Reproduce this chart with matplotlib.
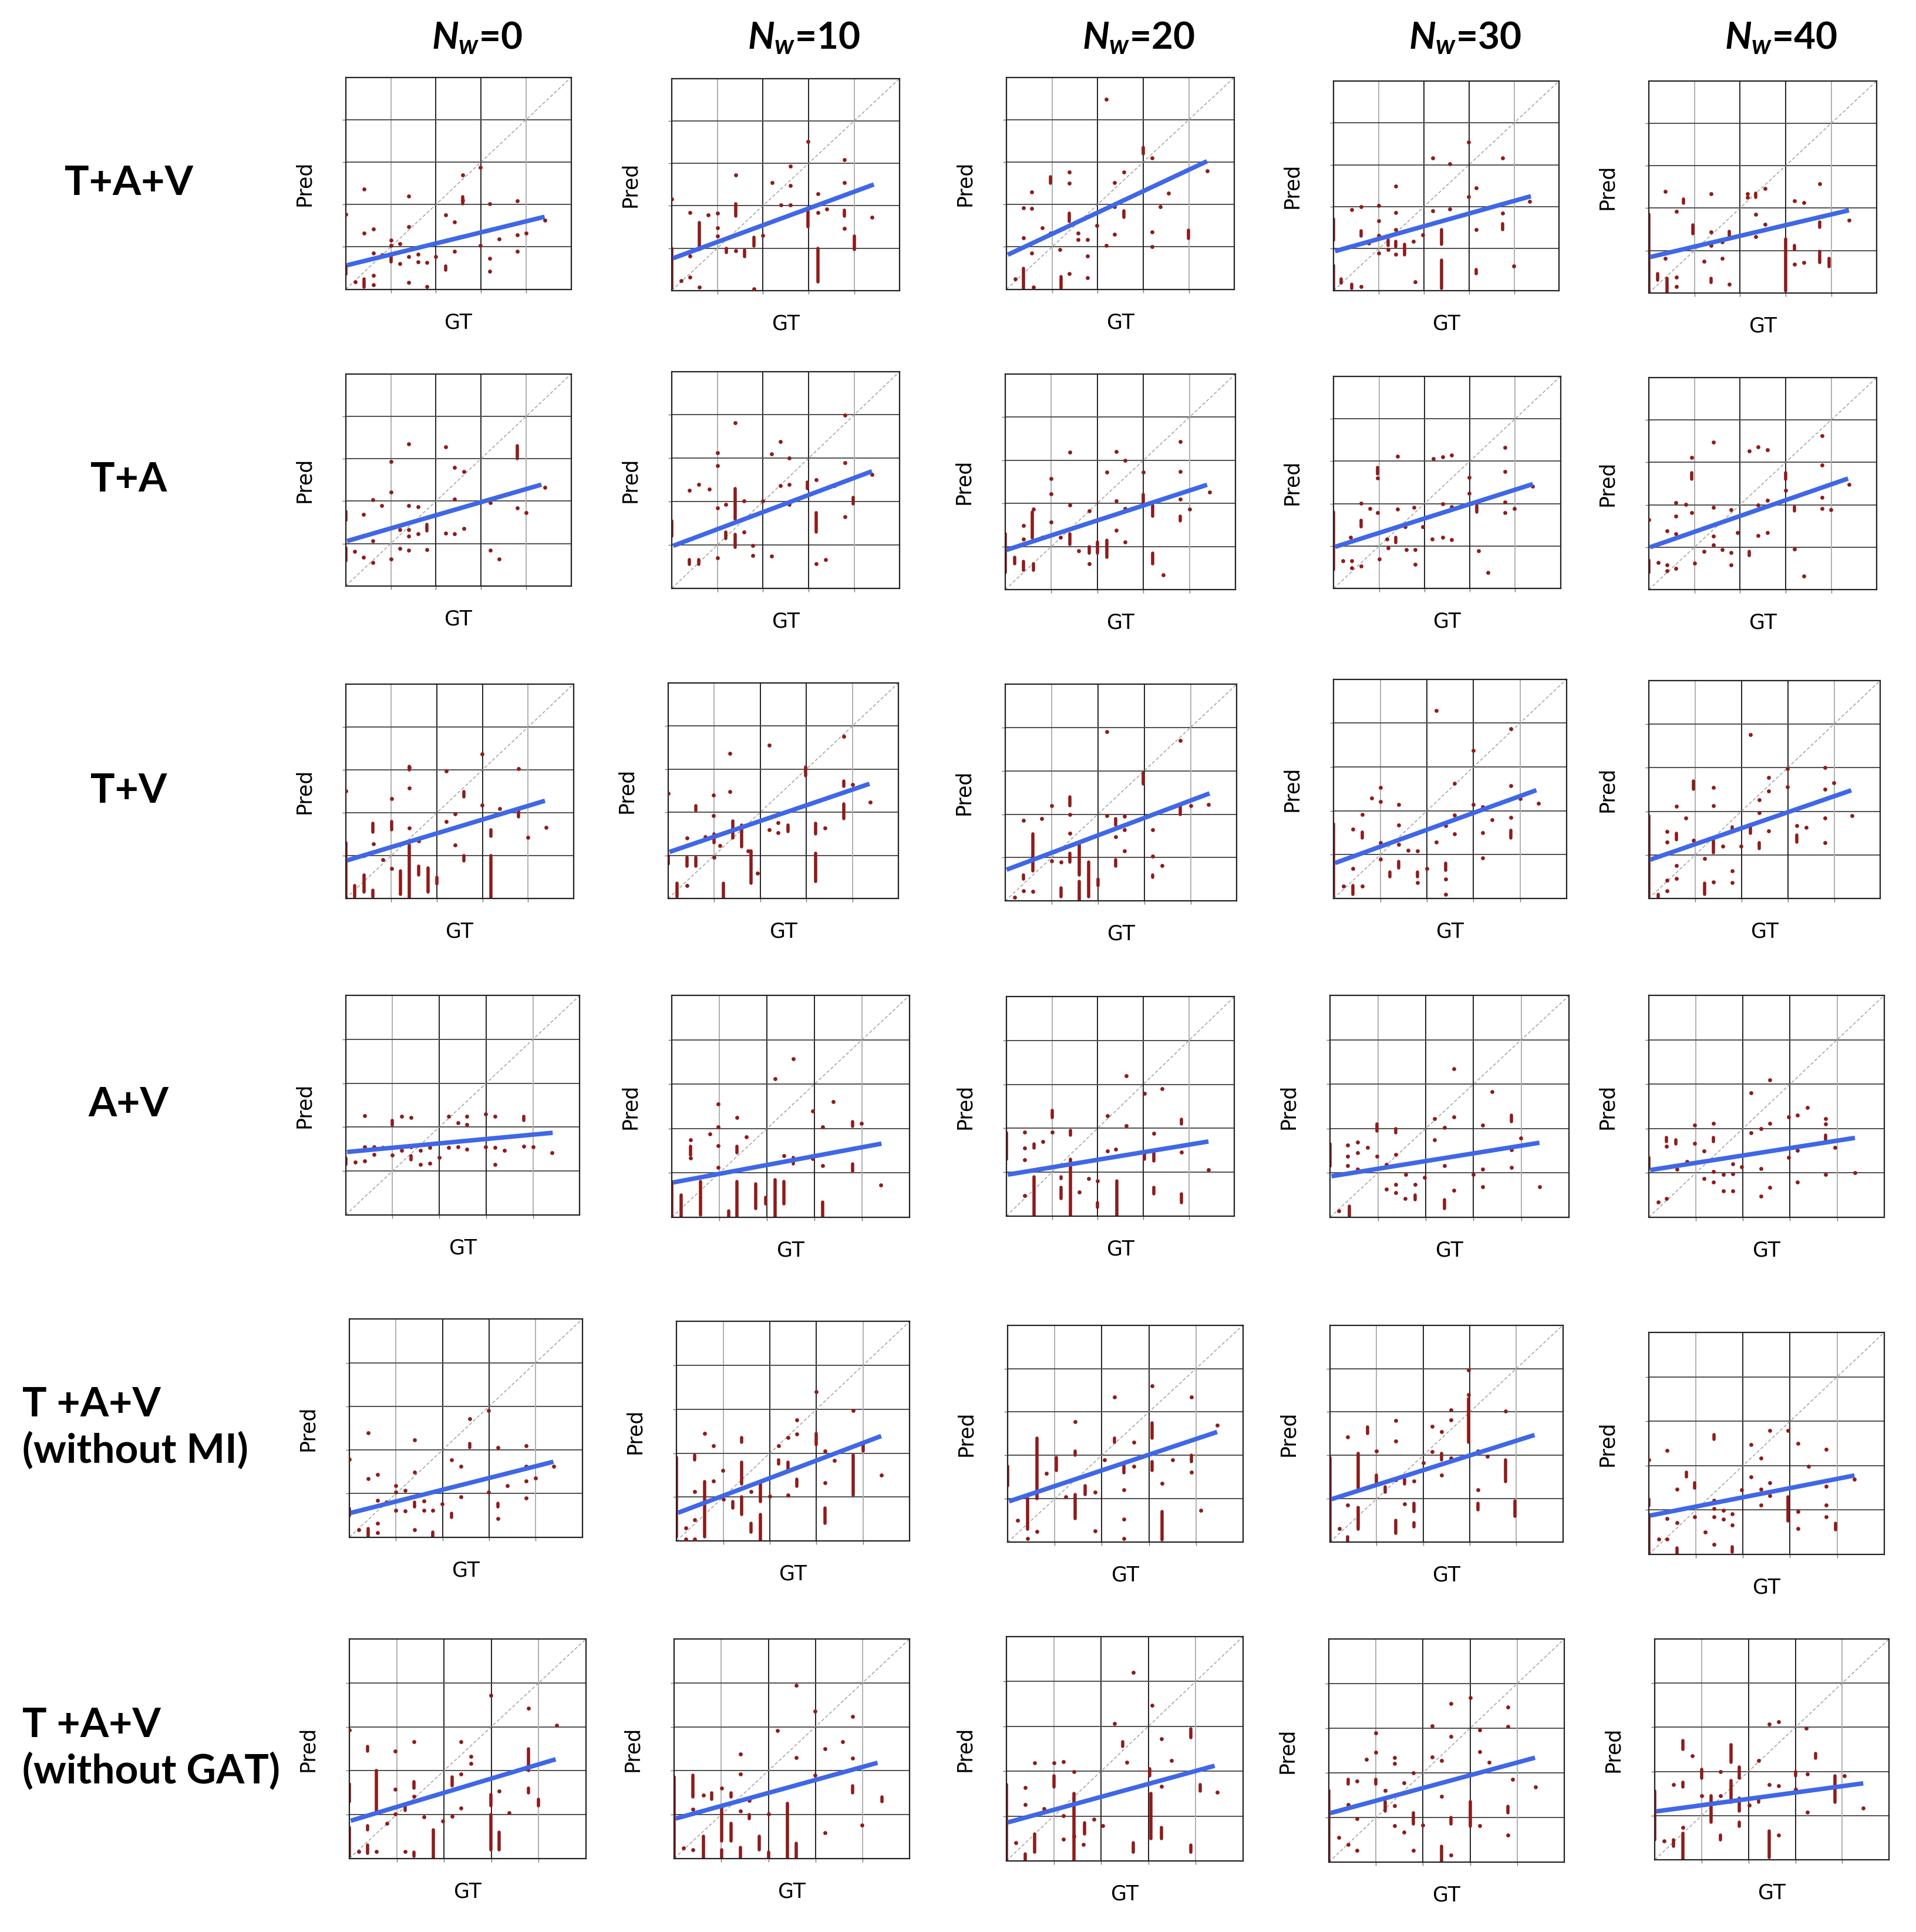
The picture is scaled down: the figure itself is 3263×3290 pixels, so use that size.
import matplotlib
matplotlib.use("Agg")
import matplotlib.pyplot as plt

plt.rcParams['mathtext.fontset'] = 'custom'
plt.rcParams['mathtext.it'] = 'Lato:italic:bold'
plt.rcParams['mathtext.rm'] = 'Lato:bold'

col_titles = ['0', '10', '20', '30', '40']
row_labels = ['T+A+V', 'T+A', 'T+V', 'A+V', 'T +A+V\n(without MI)', 'T +A+V\n(without GAT)']

# fitted line per panel: (pred at GT=0, last GT, pred at last GT)
fits_r1 = [(0.56, 4.41, 1.71), (0.75, 4.43, 2.50), (0.80, 4.40, 3.02), (0.93, 4.37, 2.25), (0.84, 4.39, 1.95)]
fits_r2 = [(1.05, 4.34, 2.39), (0.97, 4.39, 2.70), (0.91, 4.38, 2.43), (0.97, 4.39, 2.46), (0.99, 4.37, 2.62)]
fits_r3 = [(0.88, 4.37, 2.28), (1.07, 4.37, 2.66), (0.71, 4.41, 2.48), (0.80, 4.35, 2.47), (0.88, 4.37, 2.48)]
fits_r4 = [(1.43, 4.42, 1.87), (0.78, 4.41, 1.66), (0.94, 4.43, 1.70), (0.92, 4.38, 1.68), (1.06, 4.38, 1.79)]
fits_r5 = [(0.55, 4.38, 1.73), (0.63, 4.39, 2.39), (0.93, 4.45, 2.54), (0.98, 4.39, 2.47), (0.87, 4.37, 1.78)]
fits_r6 = [(0.85, 4.36, 2.26), (0.90, 4.32, 2.18), (0.85, 4.40, 2.12), (1.09, 4.38, 2.34), (1.09, 4.45, 1.73)]

# single predictions (GT, Pred)
pts_r1 = [
    [(0.41, 2.36), (1.40, 2.19), (2.60, 2.69), (2.99, 2.88), (2.60, 2.10), (3.19, 2.02), (3.80, 2.08), (2.22, 1.76),
     (2.41, 1.59), (0.0, 1.77), (0.41, 1.32), (0.61, 1.42), (1.40, 1.47), (1.0, 1.16), (1.2, 1.07), (1.0, 1.04),
     (0.81, 0.81), (0.61, 0.85), (1.2, 0.61), (1.40, 0.77), (1.61, 0.83), (1.61, 0.65), (1.80, 0.63), (2.0, 0.77),
     (2.41, 0.90), (2.99, 1.04), (3.19, 0.73), (3.19, 0.43), (3.40, 1.18), (3.80, 1.28), (3.80, 0.89), (4.0, 1.33),
     (4.41, 1.63), (0.61, 0.33), (0.21, 0.18), (0.61, 0.10), (1.40, 0.16), (1.80, 0.06)],
    [(2.99, 3.52), (3.79, 3.09), (1.40, 2.73), (2.60, 2.93), (2.20, 2.55), (2.60, 2.48), (3.79, 2.54), (3.20, 2.28),
     (2.40, 2.02), (2.60, 2.02), (3.20, 1.84), (3.40, 1.92), (4.39, 1.73), (3.79, 1.46), (1.0, 1.82), (0.8, 1.78),
     (0.4, 1.84), (1.0, 1.29), (1.4, 0.94), (2.0, 1.30), (0.4, 0.82), (0.2, 0.23), (0.4, 0.31), (0.6, 0.08),
     (1.8, 0.04), (0.0, 2.15), (1.0, 1.48)],
    [(2.19, 4.48), (3.19, 3.09), (4.40, 2.79), (1.38, 2.77), (1.38, 2.50), (2.58, 2.77), (2.37, 2.52), (0.56, 2.30),
     (3.56, 2.27), (0.56, 1.91), (0.38, 1.92), (2.37, 1.95), (3.37, 1.95), (1.98, 1.50), (0.79, 1.45), (0.97, 1.33),
     (1.57, 1.33), (1.57, 1.17), (1.78, 1.17), (2.37, 1.30), (3.19, 1.35), (2.19, 1.04), (3.19, 1.00), (0.38, 1.21),
     (0.56, 0.86), (1.17, 0.94), (1.78, 0.78), (1.78, 0.27), (1.38, 0.37), (0.2, 0.25), (0.59, 0.05)],
    [(2.99, 3.54), (2.20, 3.16), (2.57, 3.02), (3.75, 3.16), (1.37, 2.49), (3.16, 2.45), (2.99, 2.24), (4.34, 2.12),
     (0.61, 2.00), (1.0, 2.03), (0.4, 1.93), (2.20, 1.90), (2.57, 1.95), (1.37, 1.86), (3.75, 1.84), (1.0, 1.66),
     (3.16, 1.46), (1.37, 1.46), (1.0, 1.32), (1.97, 1.33), (0.77, 1.13), (1.77, 1.17), (1.2, 0.97), (1.37, 0.87),
     (1.0, 0.89), (3.99, 0.58), (1.8, 0.20), (0.61, 0.10)],
    [(3.75, 2.57), (0.36, 2.40), (1.37, 2.34), (2.16, 2.34), (2.55, 2.47), (3.2, 2.17), (3.4, 2.13), (2.16, 2.26),
     (0.61, 1.93), (2.35, 1.85), (2.55, 1.62), (4.39, 1.72), (1.37, 1.44), (2.35, 1.33), (1.61, 1.21), (1.37, 1.12),
     (3.2, 0.68), (0.36, 0.82), (1.21, 0.74), (1.61, 0.81), (0.61, 0.37), (0.61, 0.15), (1.76, 0.20), (3.4, 0.72)],
]
pts_r2 = [
    [(1.4, 3.35), (2.22, 3.28), (1.0, 2.94), (2.41, 2.80), (2.62, 2.70), (1.0, 2.22), (0.6, 2.04), (0.8, 1.90),
     (1.4, 1.90), (1.6, 1.87), (2.41, 2.05), (3.0, 1.98), (3.2, 1.96), (3.8, 1.84), (4.0, 1.73), (4.42, 2.33),
     (0.4, 1.69), (1.2, 1.33), (1.4, 1.33), (1.6, 1.23), (1.4, 1.18), (2.22, 1.24), (2.41, 1.23), (2.62, 1.35),
     (0.4, 1.19), (0.6, 1.07), (1.2, 0.88), (1.4, 0.84), (1.8, 0.85), (1.0, 0.64), (0.2, 0.82), (0.4, 0.67),
     (0.6, 0.55), (3.2, 0.84), (3.4, 0.64)],
    [(3.8, 3.99), (1.39, 3.82), (2.38, 3.39), (2.19, 3.10), (2.58, 3.00), (1.0, 3.12), (1.0, 2.83), (3.8, 2.89),
     (0.59, 2.40), (0.82, 2.29), (1.58, 2.02), (2.38, 2.37), (2.58, 2.39), (3.17, 2.51), (3.57, 2.37), (3.8, 1.65),
     (4.39, 2.62), (0.38, 2.26), (1.0, 1.85), (1.19, 1.93), (1.99, 2.01), (2.58, 1.93), (1.58, 1.30), (1.78, 0.99),
     (1.78, 0.76), (2.19, 0.74), (1.0, 0.70), (0.2, 1.05), (3.17, 0.57), (3.37, 0.66)],
    [(1.4, 3.19), (2.41, 3.20), (2.6, 3.00), (3.8, 3.43), (3.8, 2.74), (2.2, 2.72), (1.0, 2.57), (1.4, 1.96),
     (1.0, 2.22), (2.41, 2.06), (3.0, 2.72), (3.8, 2.10), (4.0, 1.87), (4.43, 2.26), (2.6, 1.88), (1.82, 1.83),
     (0.61, 1.87), (1.0, 1.56), (0.4, 1.48), (0.4, 1.17), (0.8, 1.21), (1.2, 1.21), (1.6, 0.90), (2.41, 1.37),
     (2.6, 1.11), (3.43, 0.34), (1.82, 0.60)],
    [(1.4, 3.12), (2.19, 3.06), (2.4, 3.10), (2.6, 3.14), (3.77, 3.32), (0.96, 2.60), (2.98, 2.62), (3.77, 2.76),
     (2.98, 2.25), (0.6, 2.01), (0.8, 1.89), (0.96, 1.79), (1.4, 1.87), (1.77, 1.91), (2.4, 1.99), (2.6, 1.93),
     (3.77, 2.03), (3.77, 1.79), (3.98, 1.89), (4.39, 2.41), (1.57, 1.46), (1.96, 1.46), (0.37, 1.20), (1.17, 1.16),
     (2.17, 1.16), (2.4, 1.20), (2.6, 1.15), (1.2, 0.95), (1.6, 0.92), (1.8, 0.91), (3.19, 0.89), (1.0, 0.69),
     (0.2, 0.65), (0.4, 0.65), (0.4, 0.48), (0.6, 0.52), (1.8, 0.57), (3.4, 0.38)],
    [(1.42, 3.47), (2.2, 3.27), (2.4, 3.37), (2.6, 3.29), (3.8, 3.63), (0.94, 3.11), (3.8, 2.94), (3.0, 2.34),
     (0.6, 2.05), (0.81, 2.01), (2.4, 2.00), (2.6, 2.10), (3.8, 2.17), (3.8, 1.91), (3.99, 1.89), (1.42, 1.94),
     (1.8, 1.89), (0.94, 1.82), (0.6, 1.73), (0.4, 1.38), (0.6, 1.32), (0.0, 1.65), (1.42, 1.26), (1.42, 1.06),
     (1.94, 1.34), (2.4, 1.28), (2.6, 1.34), (1.21, 0.90), (1.61, 0.94), (1.8, 0.88), (3.2, 0.96), (1.0, 0.62),
     (0.21, 0.64), (0.4, 0.58), (0.4, 0.44), (0.6, 0.50), (1.8, 0.59), (3.4, 0.32), (4.39, 2.48)],
]
pts_r3 = [
    [(2.99, 3.37), (1.4, 3.05), (2.2, 2.97), (3.79, 3.03), (1.4, 2.58), (0.0, 2.51), (1.01, 2.33), (2.99, 2.18),
     (3.38, 2.10), (2.4, 1.98), (2.2, 1.80), (4.39, 1.66), (4.0, 1.42), (1.4, 1.64), (1.6, 1.34), (0.61, 1.27),
     (2.4, 1.25), (0.4, 1.00), (0.81, 0.90), (1.01, 0.70)],
    [(2.19, 3.56), (3.81, 3.76), (1.34, 3.36), (1.34, 2.48), (0.98, 2.40), (0.98, 1.92), (0.0, 2.44), (4.0, 2.64),
     (4.38, 2.24), (2.19, 1.60), (2.39, 1.52), (2.39, 1.76), (3.4, 1.63), (0.8, 1.43), (0.41, 1.40), (1.13, 1.23),
     (1.73, 1.10), (1.94, 0.59), (0.41, 0.30), (1.0, 0.95)],
    [(2.19, 3.90), (3.78, 3.70), (1.0, 2.20), (1.4, 2.00), (0.79, 1.90), (0.4, 1.86), (2.19, 1.97), (2.58, 1.96),
     (4.0, 2.20), (4.39, 2.22), (1.4, 1.56), (2.58, 1.64), (2.38, 1.48), (3.18, 1.64), (2.58, 1.15), (1.0, 0.92),
     (1.2, 0.90), (3.18, 1.04), (3.38, 0.82), (0.6, 0.22), (0.2, 0.08), (0.4, 0.24)],
    [(2.2, 4.28), (3.8, 3.87), (3.0, 3.37), (1.0, 2.53), (2.59, 2.63), (0.81, 2.29), (1.0, 2.21), (1.4, 2.15),
     (3.8, 2.57), (4.0, 2.28), (4.39, 2.17), (3.0, 2.15), (3.2, 2.09), (0.61, 1.91), (2.59, 1.90), (3.4, 1.80),
     (3.8, 1.85), (1.4, 1.68), (2.4, 1.66), (0.41, 1.58), (2.59, 1.48), (3.2, 1.50), (2.2, 1.29), (1.0, 1.28),
     (1.4, 1.24), (1.6, 1.10), (1.8, 1.09), (3.2, 0.92), (1.0, 0.90), (0.41, 0.68), (2.0, 0.68), (2.4, 0.45),
     (2.4, 0.10), (1.8, 0.37), (0.21, 0.29), (0.61, 0.29)],
    [(2.19, 3.76), (2.99, 2.98), (3.8, 3.00), (2.59, 2.78), (1.4, 2.54), (2.99, 2.56), (3.99, 2.66), (2.59, 2.46),
     (3.8, 2.50), (0.6, 2.12), (1.4, 2.13), (2.39, 2.26), (2.39, 1.97), (0.8, 1.84), (4.38, 1.90), (3.8, 1.84),
     (2.59, 1.55), (3.2, 1.67), (3.4, 1.63), (0.4, 1.54), (0.4, 1.30), (0.96, 1.34), (1.6, 1.20), (1.99, 1.20),
     (3.8, 1.28), (1.2, 0.92), (0.6, 0.76), (1.8, 0.64), (0.4, 0.42), (0.6, 0.46), (1.4, 0.38), (1.8, 0.36),
     (0.4, 0.18)],
]
pts_r4 = [
    [(0.4, 2.26), (1.19, 2.24), (1.4, 2.22), (2.2, 2.24), (2.4, 2.10), (2.59, 2.24), (2.59, 2.06), (2.99, 2.30),
     (3.19, 2.24), (0.4, 1.55), (0.6, 1.55), (0.79, 1.53), (1.4, 1.55), (1.8, 1.53), (2.2, 1.53), (2.4, 1.55),
     (2.99, 1.55), (3.19, 1.53), (3.8, 1.56), (4.0, 1.55), (4.4, 1.41), (0.2, 1.20), (0.4, 1.23), (0.6, 1.37),
     (1.0, 1.36), (1.19, 1.47), (1.6, 1.47), (1.6, 1.15), (1.8, 1.17), (2.0, 1.31), (2.59, 1.49), (3.39, 1.47),
     (3.19, 1.15)],
    [(2.56, 3.57), (2.17, 3.12), (3.39, 2.60), (0.97, 2.55), (1.37, 2.25), (2.96, 2.39), (3.17, 2.04), (3.99, 2.12),
     (0.8, 1.88), (0.97, 2.04), (0.4, 1.74), (0.4, 1.33), (0.97, 1.62), (1.57, 1.81), (2.36, 1.39), (3.17, 1.17),
     (2.96, 1.32), (0.97, 1.13), (4.39, 0.73)],
    [(2.63, 3.20), (3.41, 2.90), (3.03, 2.80), (2.21, 2.28), (2.63, 2.06), (0.4, 1.91), (1.0, 1.91), (0.8, 1.70),
     (0.4, 1.55), (3.23, 1.89), (2.4, 1.53), (2.22, 1.49), (3.84, 1.46), (4.43, 1.05), (0.4, 1.28), (0.4, 0.46),
     (1.6, 0.55), (1.8, 0.86), (2.0, 0.80)],
    [(2.59, 3.35), (3.39, 2.83), (2.19, 2.22), (2.59, 2.26), (2.39, 2.02), (3.19, 2.08), (3.99, 1.78), (0.37, 1.63),
     (0.58, 1.69), (0.78, 1.57), (0.37, 1.38), (0.58, 1.45), (0.98, 1.37), (1.38, 1.41), (2.19, 1.75), (3.8, 1.52),
     (0.37, 1.17), (0.58, 1.08), (1.18, 1.19), (2.39, 1.17), (3.19, 1.08), (3.8, 1.13), (2.99, 0.96), (1.58, 0.97),
     (1.98, 0.90), (1.38, 0.74), (1.78, 0.74), (1.18, 0.64), (1.38, 0.55), (1.57, 0.42), (2.59, 0.61), (3.19, 0.69),
     (4.38, 0.69), (0.18, 0.14)],
    [(2.57, 3.10), (2.17, 2.80), (3.37, 2.48), (2.97, 2.26), (3.16, 2.30), (3.76, 2.22), (3.76, 2.10), (0.97, 2.08),
     (1.37, 2.12), (2.57, 2.12), (2.38, 2.00), (2.17, 1.90), (0.97, 1.67), (3.95, 1.57), (2.97, 1.35), (3.16, 1.51),
     (0.37, 1.60), (1.17, 1.49), (0.81, 1.25), (0.6, 1.08), (1.78, 1.21), (1.97, 1.14), (2.38, 1.10), (1.37, 1.03),
     (1.58, 0.96), (1.78, 0.98), (3.76, 0.96), (4.38, 1.00), (1.17, 0.87), (1.37, 0.79), (3.16, 0.79), (2.57, 0.68),
     (1.58, 0.60), (1.78, 0.60), (2.38, 0.48), (0.2, 0.34), (0.37, 0.42)],
]
pts_r5 = [
    [(2.99, 2.91), (2.59, 2.72), (0.4, 2.39), (1.4, 2.23), (3.19, 2.05), (3.79, 2.09), (0.0, 1.79), (2.19, 1.77),
     (2.4, 1.62), (1.4, 1.49), (0.4, 1.34), (0.6, 1.44), (3.79, 1.62), (4.39, 1.62), (3.99, 1.35), (3.79, 1.29),
     (3.39, 1.18), (0.99, 1.18), (0.99, 1.04), (1.2, 1.07), (2.99, 1.04), (2.4, 0.92), (3.79, 0.90), (0.6, 0.85),
     (0.8, 0.81), (1.6, 0.83), (0.99, 0.62), (1.2, 0.60), (1.6, 0.62), (1.79, 0.62), (1.99, 0.76), (3.19, 0.43),
     (0.6, 0.32), (0.2, 0.17), (0.6, 0.10), (1.4, 0.17)],
    [(2.99, 3.40), (3.79, 2.97), (2.58, 2.76), (2.58, 2.44), (2.39, 2.36), (0.6, 2.45), (0.79, 2.17), (2.19, 2.17),
     (3.18, 2.05), (4.4, 1.50), (0.99, 1.61), (3.18, 1.33), (3.38, 1.83), (1.6, 1.13), (2.0, 1.02), (2.39, 1.05),
     (0.39, 1.13), (0.79, 1.37), (0.39, 0.48), (0.2, 0.04), (0.39, 0.04), (0.2, 0.30), (1.0, 0.95)],
    [(3.07, 3.60), (2.27, 3.35), (3.91, 3.35), (1.44, 2.78), (4.45, 2.70), (2.68, 2.30), (2.06, 1.90), (2.68, 1.75),
     (3.5, 1.89), (3.91, 1.61), (3.28, 1.35), (0.82, 1.59), (1.23, 1.05), (1.86, 1.15), (2.47, 1.20), (4.1, 0.73),
     (2.47, 0.53), (1.86, 0.26), (0.21, 0.50), (0.62, 0.24), (0.42, 0.08), (2.47, 0.08)],
    [(2.97, 3.97), (2.97, 3.40), (3.77, 3.02), (1.41, 2.80), (0.38, 2.42), (2.59, 3.05), (2.59, 2.81), (2.19, 2.67),
     (2.39, 2.55), (1.41, 2.33), (1.0, 2.10), (2.19, 2.08), (2.0, 1.83), (2.59, 1.94), (3.18, 2.10), (3.38, 1.98),
     (2.39, 1.54), (1.41, 1.44), (1.8, 1.41), (3.18, 1.20), (0.38, 0.86), (1.6, 0.88), (0.2, 0.32)],
    [(2.57, 2.79), (2.96, 2.79), (2.17, 2.47), (3.17, 2.50), (3.77, 2.37), (0.39, 2.34), (2.38, 2.17), (3.39, 1.98),
     (2.17, 1.75), (2.57, 1.61), (1.97, 1.45), (2.38, 1.47), (2.57, 1.33), (0.6, 1.47), (3.77, 1.53), (4.37, 1.69),
     (1.38, 1.22), (2.38, 1.11), (3.77, 1.11), (1.38, 1.03), (1.58, 0.99), (1.77, 0.91), (0.98, 0.85), (1.38, 0.85),
     (3.17, 0.97), (3.77, 0.85), (1.58, 0.79), (0.39, 0.81), (0.6, 0.71), (1.77, 0.66), (3.17, 0.58), (1.2, 0.50),
     (0.21, 0.34), (0.39, 0.34), (1.38, 0.22), (0.0, 2.13)],
]
pts_r6 = [
    [(2.99, 3.72), (3.79, 3.42), (4.38, 3.03), (1.37, 2.66), (2.36, 2.66), (0.97, 2.45), (2.57, 2.33), (2.57, 2.17),
     (2.36, 1.92), (1.37, 1.41), (0.97, 1.57), (3.16, 1.53), (3.38, 1.04), (2.36, 1.15), (0.97, 1.02), (1.58, 0.94),
     (1.97, 0.85), (2.17, 0.96), (0.57, 0.16), (0.8, 0.80), (0.2, 0.16), (1.18, 0.16), (0.0, 2.93)],
    [(2.59, 3.94), (2.99, 3.36), (3.79, 3.24), (2.19, 2.92), (3.58, 2.66), (2.59, 2.30), (3.2, 2.50), (3.79, 2.29),
     (1.41, 2.38), (1.41, 1.93), (2.99, 1.90), (0.62, 1.44), (1.01, 1.60), (1.6, 1.32), (2.0, 1.02), (3.2, 0.58),
     (3.99, 0.76), (1.41, 1.08), (0.4, 1.12), (0.4, 0.20), (0.2, 0.24)],
    [(2.68, 4.20), (3.08, 3.47), (2.28, 3.06), (3.28, 2.72), (3.49, 2.24), (0.6, 2.19), (1.0, 2.19), (1.21, 2.21),
     (1.43, 1.99), (0.4, 1.64), (2.55, 2.20), (3.28, 1.66), (4.45, 1.53), (2.46, 1.57), (0.4, 1.26), (0.8, 1.17),
     (1.21, 1.01), (1.85, 0.93), (2.03, 0.79), (1.21, 0.48), (1.43, 0.55), (1.63, 0.36), (0.2, 0.40)],
    [(3.0, 3.69), (2.6, 3.55), (3.8, 3.47), (2.2, 3.05), (1.0, 2.90), (3.8, 3.04), (2.6, 2.82), (3.2, 2.96),
     (1.0, 2.46), (0.8, 2.30), (1.4, 2.34), (1.4, 2.21), (2.2, 2.36), (2.4, 2.28), (3.2, 2.48), (3.4, 2.24),
     (1.8, 2.00), (0.6, 1.81), (3.9, 1.85), (4.39, 1.68), (1.6, 1.78), (1.2, 1.60), (2.4, 1.47), (0.41, 1.29),
     (0.6, 0.98), (1.4, 1.27), (2.0, 0.83), (3.2, 0.81), (1.4, 0.81), (1.6, 0.67), (0.21, 0.55), (0.41, 0.39),
     (3.8, 0.60), (0.6, 0.26), (1.8, 0.26), (2.6, 0.16)],
    [(2.44, 3.07), (2.64, 3.13), (3.23, 2.98), (0.8, 2.35), (2.22, 2.25), (1.4, 2.00), (3.25, 1.94), (0.4, 1.70),
     (2.44, 1.70), (2.64, 1.67), (4.05, 1.90), (1.0, 1.45), (1.4, 1.45), (2.02, 1.23), (3.0, 1.60), (3.25, 1.08),
     (4.45, 1.17), (2.64, 0.55), (0.2, 0.42), (0.6, 0.73)],
]

# stacked predictions drawn as vertical runs: (GT, Pred low, Pred high)
streaks_r1 = [
    [(2.60, 2.02, 2.18), (2.22, 0.45, 0.55), (0.41, 0.05, 0.25), (0.0, 0.35, 0.55), (1.0, 0.65, 0.80)],
    [(2.99, 1.50, 1.95), (3.79, 1.75, 1.90), (4.0, 0.97, 1.28), (3.2, 0.20, 1.00), (1.4, 1.75, 2.05),
     (0.6, 0.97, 1.60), (1.2, 0.90, 1.00), (1.6, 0.80, 0.95), (1.8, 1.05, 1.25), (0.0, 0.05, 1.00)],
    [(3.0, 3.20, 3.35), (0.97, 2.50, 2.65), (1.38, 1.60, 1.80), (2.58, 1.70, 1.85), (3.99, 1.20, 1.40),
     (0.38, 0.02, 0.50), (1.2, 0.02, 0.30)],
    [(3.75, 1.45, 1.60), (0.61, 1.30, 1.42), (2.39, 1.10, 1.45), (1.2, 1.08, 1.20), (1.37, 1.05, 1.17),
     (1.57, 0.85, 1.10), (2.39, 0.05, 0.72), (3.16, 0.40, 0.50), (0.16, 0.18, 0.27), (0.4, 0.05, 0.15),
     (0.0, 1.20, 1.70), (0.0, 0.03, 0.60)],
    [(2.35, 2.25, 2.35), (0.76, 2.12, 2.22), (3.75, 1.55, 1.67), (0.97, 1.40, 1.60), (1.76, 1.36, 1.45),
     (3.0, 0.05, 1.27), (3.2, 1.02, 1.12), (3.75, 0.72, 0.98), (3.95, 0.62, 0.82), (1.37, 0.25, 0.35),
     (0.2, 0.30, 0.45), (0.4, 0.00, 0.35), (0.0, 0.00, 1.85)],
]
streaks_r2 = [
    [(3.8, 3.00, 3.30), (1.8, 1.30, 1.45), (0.0, 1.55, 1.75), (0.0, 0.60, 0.90)],
    [(1.39, 1.60, 2.30), (2.97, 2.30, 2.45), (3.98, 1.95, 2.10), (3.17, 1.30, 1.75), (1.19, 1.15, 1.30),
     (1.39, 0.95, 1.25), (0.38, 0.55, 0.67), (0.59, 0.55, 0.67), (0.0, 1.20, 1.55)],
    [(3.0, 2.00, 2.20), (3.2, 1.70, 1.95), (3.8, 1.60, 1.70), (0.59, 1.20, 1.80), (1.4, 1.05, 1.30),
     (1.82, 0.85, 1.00), (2.0, 0.85, 1.10), (2.2, 0.75, 1.15), (3.2, 0.60, 0.85), (0.2, 0.60, 0.75),
     (0.4, 0.45, 0.65), (0.61, 0.45, 0.60), (0.0, 0.40, 1.30)],
    [(0.96, 2.70, 2.85), (3.15, 1.80, 1.95), (0.6, 1.45, 1.60), (1.37, 1.08, 1.20), (0.0, 0.45, 1.80)],
    [(0.94, 2.60, 2.75), (3.0, 2.60, 2.75), (3.2, 1.85, 1.95), (2.2, 0.80, 0.90), (0.0, 0.40, 0.70)],
]
streaks_r3 = [
    [(1.4, 3.00, 3.08), (2.59, 2.37, 2.50), (3.79, 1.90, 2.05), (0.6, 1.55, 1.75), (1.01, 1.60, 1.80),
     (3.19, 1.45, 1.60), (2.59, 0.88, 1.00), (1.4, 0.00, 1.25), (1.2, 0.10, 0.65), (1.6, 0.55, 0.75),
     (1.8, 0.15, 0.72), (2.0, 0.35, 0.50), (3.19, 0.00, 1.00), (0.0, 0.00, 1.30), (0.2, 0.05, 0.30),
     (0.4, 0.15, 0.55), (0.6, 0.05, 0.20)],
    [(2.99, 2.85, 3.05), (0.6, 2.05, 2.15), (3.81, 2.60, 2.72), (3.81, 1.85, 2.20), (2.6, 1.55, 1.70),
     (3.2, 1.50, 1.75), (1.4, 1.40, 1.80), (1.6, 1.20, 1.70), (1.0, 1.30, 1.50), (1.8, 0.35, 1.10),
     (3.2, 0.40, 1.05), (0.41, 0.75, 0.95), (0.6, 0.75, 0.95), (0.2, 0.05, 0.35), (1.2, 0.00, 0.35),
     (0.0, 0.80, 1.00)],
    [(2.98, 2.70, 2.95), (1.4, 2.20, 2.40), (2.38, 1.75, 1.90), (3.78, 2.00, 2.20), (0.6, 1.00, 1.55),
     (1.4, 0.90, 1.10), (1.6, 0.60, 1.30), (1.8, 0.10, 0.90), (2.0, 0.35, 0.50), (2.38, 0.80, 0.95),
     (3.18, 0.55, 0.60), (0.4, 0.50, 0.60), (0.6, 0.70, 1.00), (1.2, 0.10, 0.30), (1.6, 0.00, 0.45)],
    [(0.61, 1.38, 1.52), (3.8, 1.38, 1.55), (1.4, 0.70, 0.85), (2.4, 0.65, 0.80), (1.2, 0.50, 0.60),
     (1.8, 0.50, 0.60), (0.41, 0.10, 0.30), (0.0, 0.05, 1.70)],
    [(0.96, 2.50, 2.70), (1.8, 1.55, 1.65), (2.19, 1.50, 1.65), (3.2, 1.30, 1.45), (0.6, 1.35, 1.50),
     (1.4, 1.05, 1.35), (2.39, 1.15, 1.28), (0.0, 0.05, 1.90), (1.2, 0.10, 0.35), (0.2, 0.00, 0.10)],
]
streaks_r4 = [
    [(1.0, 2.05, 2.15), (3.8, 2.15, 2.25), (1.4, 1.25, 1.35), (0.0, 1.15, 1.30)],
    [(3.8, 2.05, 2.15), (0.4, 1.40, 1.60), (1.37, 1.45, 1.60), (2.56, 1.20, 1.35), (3.8, 1.05, 1.20),
     (0.6, 0.05, 0.80), (1.37, 0.00, 0.80), (1.77, 0.20, 0.75), (1.97, 0.30, 0.45), (2.17, 0.00, 0.85),
     (2.36, 0.30, 0.80), (3.17, 0.00, 0.35), (1.2, 0.00, 0.15), (0.2, 0.00, 0.50), (0.0, 0.00, 0.80)],
    [(1.0, 2.25, 2.40), (3.84, 2.10, 2.20), (1.4, 1.85, 1.95), (0.6, 1.55, 1.65), (3.03, 1.30, 1.45),
     (3.23, 1.25, 1.45), (0.0, 1.30, 1.90), (1.2, 0.85, 0.90), (1.4, 0.00, 1.30), (1.2, 0.40, 0.65),
     (0.6, 0.00, 0.90), (2.42, 0.00, 0.80), (3.23, 0.50, 0.65), (3.84, 0.30, 0.50), (2.0, 0.20, 0.30)],
    [(3.8, 2.15, 2.30), (0.98, 1.95, 2.10), (1.38, 1.90, 2.00), (1.78, 0.40, 0.50), (2.39, 0.20, 0.40),
     (0.4, 0.00, 0.25), (0.0, 1.15, 1.65)],
    [(0.37, 1.70, 1.80), (0.58, 1.65, 1.75), (1.37, 1.70, 1.80), (3.76, 1.75, 1.85), (0.0, 1.10, 1.35)],
]
streaks_r5 = [
    [(2.59, 2.05, 2.15), (1.4, 0.70, 0.80), (2.19, 0.45, 0.55), (3.19, 0.70, 0.78), (0.4, 0.00, 0.20),
     (1.79, 0.00, 0.12), (0.0, 0.50, 0.65)],
    [(1.4, 2.25, 2.35), (2.99, 2.20, 2.45), (4.0, 2.05, 2.20), (0.39, 1.85, 1.95), (1.4, 1.30, 1.80),
     (2.19, 1.75, 1.85), (2.39, 1.60, 1.80), (2.58, 1.25, 1.40), (3.79, 1.05, 1.95), (1.8, 0.90, 1.30),
     (0.6, 0.10, 1.35), (1.2, 0.75, 0.90), (1.4, 0.60, 1.00), (1.6, 0.20, 0.40), (1.8, 0.00, 0.60),
     (3.18, 0.40, 0.75), (0.0, 0.10, 1.90)],
    [(3.07, 2.40, 2.75), (2.27, 2.30, 2.40), (0.62, 1.00, 2.40), (1.04, 1.65, 1.95), (1.44, 2.00, 2.10),
     (2.47, 1.60, 1.80), (3.07, 1.65, 1.85), (3.91, 1.85, 2.00), (1.65, 1.10, 1.30), (1.44, 0.55, 1.10),
     (3.28, 0.05, 0.70), (0.42, 0.30, 1.00), (0.0, 1.30, 1.75)],
    [(2.97, 2.30, 3.30), (0.8, 2.50, 2.65), (2.39, 1.90, 2.05), (0.6, 1.25, 2.05), (1.0, 1.38, 1.55),
     (1.6, 1.34, 1.45), (1.18, 1.15, 1.27), (3.77, 1.40, 1.90), (3.18, 0.75, 0.90), (3.97, 0.60, 0.95),
     (1.8, 0.70, 0.90), (0.6, 0.30, 0.80), (1.8, 0.35, 0.45), (1.41, 0.20, 0.50), (0.38, 0.03, 0.13),
     (0.0, 0.00, 1.95)],
    [(1.38, 2.60, 2.70), (0.8, 1.75, 1.85), (0.98, 1.50, 1.62), (2.96, 0.75, 1.30), (3.97, 0.55, 0.70),
     (1.77, 0.05, 0.17), (0.6, 0.00, 0.15), (0.0, 0.00, 0.90), (0.0, 1.10, 1.25)],
]
streaks_r6 = [
    [(0.38, 2.45, 2.55), (3.79, 2.00, 2.50), (0.57, 1.10, 2.00), (1.37, 1.60, 1.75), (2.17, 1.65, 1.85),
     (2.99, 1.20, 1.45), (3.79, 1.50, 1.60), (3.99, 1.20, 1.35), (1.18, 1.10, 1.20), (0.0, 1.30, 1.70),
     (0.38, 0.65, 0.75), (1.77, 0.00, 0.65), (2.99, 0.20, 1.00), (3.16, 0.20, 0.60), (0.38, 0.12, 0.30),
     (1.37, 0.05, 0.15), (0.0, 0.05, 0.70)],
    [(3.79, 1.50, 1.65), (4.41, 1.30, 1.40), (0.4, 1.40, 1.90), (0.8, 1.35, 1.50), (1.21, 1.40, 1.50),
     (2.41, 0.00, 1.25), (2.59, 0.00, 0.35), (1.01, 0.40, 1.15), (1.21, 0.40, 0.80), (1.6, 0.90, 1.00),
     (1.8, 0.20, 0.50), (0.62, 0.00, 0.50), (1.01, 0.00, 0.20), (1.41, 0.00, 0.25), (0.0, 0.00, 1.85),
     (2.0, 0.00, 0.15)],
    [(3.9, 2.75, 2.95), (2.46, 2.55, 2.65), (1.0, 1.65, 1.90), (3.03, 1.90, 2.05), (4.1, 1.55, 1.70),
     (1.43, 0.00, 1.50), (1.65, 0.60, 0.85), (3.05, 0.50, 1.50), (3.28, 0.50, 0.75), (3.9, 0.20, 0.35),
     (0.6, 0.20, 0.60), (2.68, 0.20, 0.40), (0.4, 0.00, 0.15), (0.0, 0.00, 1.70)],
    [(0.41, 1.75, 1.85), (1.0, 1.75, 1.85), (1.2, 1.15, 1.35), (3.8, 1.10, 1.25), (1.8, 0.85, 1.10),
     (2.6, 0.85, 1.00), (3.0, 0.80, 1.35), (2.4, 0.00, 0.35), (0.0, 0.00, 1.60)],
    [(0.6, 2.50, 2.70), (1.62, 2.20, 2.60), (3.43, 2.30, 2.40), (1.0, 1.85, 2.05), (1.8, 1.85, 2.10),
     (3.0, 1.90, 2.00), (0.6, 1.65, 1.75), (1.62, 1.30, 1.80), (3.85, 1.30, 1.90), (1.2, 0.85, 1.45),
     (1.8, 1.10, 1.40), (2.22, 1.30, 1.40), (1.8, 0.75, 0.85), (1.4, 0.45, 0.55), (2.44, 0.05, 0.65),
     (0.4, 0.30, 0.45), (0.6, 0.00, 0.60), (0.0, 0.45, 1.55)],
]

all_fits = [fits_r1, fits_r2, fits_r3, fits_r4, fits_r5, fits_r6]
all_pts = [pts_r1, pts_r2, pts_r3, pts_r4, pts_r5, pts_r6]
all_streaks = [streaks_r1, streaks_r2, streaks_r3, streaks_r4, streaks_r5, streaks_r6]

# panel boxes (left, right, top, bottom) in a 1563 x 1576 layout grid
boxes = [
    [(282, 466, 63, 236), (548, 734, 64, 237), (821, 1007, 63, 236), (1088, 1272, 66, 237), (1345, 1531, 66, 239)],
    [(282, 466, 305, 478), (548, 734, 303, 480), (820, 1008, 305, 481), (1088, 1273, 307, 480), (1345, 1531, 308, 481)],
    [(282, 468, 558, 733), (545, 733, 557, 733), (820, 1009, 558, 735), (1088, 1278, 554, 733), (1345, 1534, 555, 733)],
    [(282, 473, 812, 991), (548, 742, 812, 993), (821, 1007, 813, 992), (1085, 1280, 812, 993), (1345, 1537, 812, 993)],
    [(285, 475, 1076, 1254), (552, 742, 1078, 1257), (822, 1014, 1081, 1258), (1085, 1275, 1081, 1258), (1345, 1537, 1087, 1268)],
    [(285, 478, 1337, 1516), (550, 742, 1337, 1516), (821, 1014, 1335, 1518), (1084, 1276, 1337, 1519), (1350, 1541, 1337, 1517)],
]
GW, GH = 1563.0, 1576.0

red = '#8e1c1c'
blue = '#3f67e6'

fig = plt.figure(figsize=(32.63, 32.90), dpi=100)

for r in range(6):
    for c in range(5):
        L, R, T, B = boxes[r][c]
        ax = fig.add_axes([L / GW, 1 - B / GH, (R - L) / GW, (B - T) / GH])
        ax.set_xlim(0, 5)
        ax.set_ylim(0, 5)
        ax.set_xticks([1, 2, 3, 4])
        ax.set_yticks([1, 2, 3, 4])
        ax.tick_params(labelleft=False, labelbottom=False, length=4, width=1, color='#777')
        for v in [1, 2, 3, 4]:
            ax.axhline(v, color='#505050', lw=1.4, zorder=0)
            ax.axvline(v, color='#222222' if v in (2, 3) else '#b0b0b0', lw=1.4, zorder=0)
        for s in ax.spines.values():
            s.set_color('#222222')
            s.set_linewidth(1.6)
        ax.plot([0, 5], [0, 5], color='#999999', lw=1.0, ls=(0, (4, 2.5)), zorder=1)

        st = all_streaks[r][c]
        ax.vlines([s[0] for s in st], [s[1] for s in st], [s[2] for s in st],
                  color=red, lw=4.0, capstyle='round', zorder=2)
        p = all_pts[r][c]
        ax.scatter([q[0] for q in p], [q[1] for q in p], marker='o', s=24,
                   color=red, linewidths=0, zorder=3)

        y0, x1, y1 = all_fits[r][c]
        ax.plot([0.03, x1], [y0 + (y1 - y0) * 0.03 / x1, y1], color=blue, lw=5.5,
                solid_capstyle='butt', zorder=4)

        fig.text((L - 34) / GW, 1 - (T + B) / 2 / GH, 'Pred', rotation=90,
                 ha='center', va='center', fontsize=25)
        fig.text((L + R) / 2 / GW, 1 - (B + 27) / GH, 'GT',
                 ha='center', va='center', fontsize=25)

for c in range(5):
    L, R, T, B = boxes[0][c]
    fig.text(((L + R) / 2 + 15) / GW, 1 - 31 / GH, r'$N_w$=' + col_titles[c],
             ha='center', va='center', fontsize=46, fontweight='bold', family=['Lato', 'DejaVu Sans'])

for r in range(6):
    L, R, T, B = boxes[r][0]
    yc = 1 - (T + B) / 2 / GH
    if '\n' in row_labels[r]:
        fig.text(18 / GW, yc, row_labels[r], ha='left', va='center', fontsize=50,
                 fontweight='bold', family=['Lato', 'DejaVu Sans'], linespacing=1.25)
    else:
        fig.text(105 / GW, yc, row_labels[r], ha='center', va='center', fontsize=50,
                 fontweight='bold', family=['Lato', 'DejaVu Sans'])

fig.savefig('out.png', dpi=100, facecolor='white')
